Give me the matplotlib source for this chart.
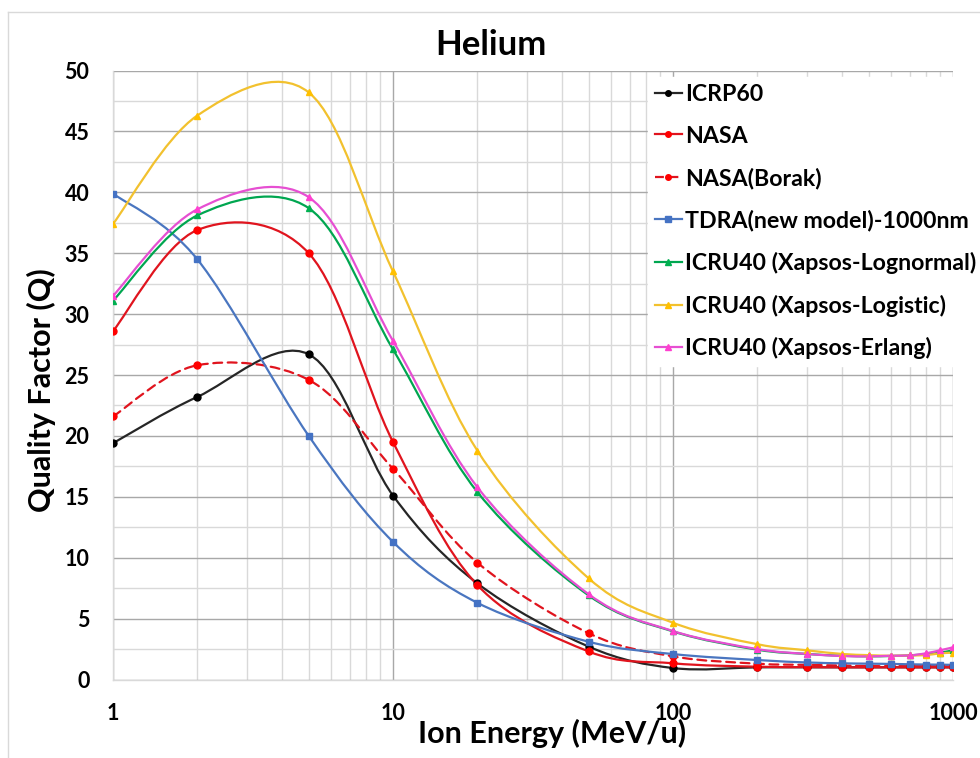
import numpy as np
import matplotlib
matplotlib.use("Agg")
import matplotlib.pyplot as plt
from matplotlib.path import Path
from matplotlib.patches import PathPatch
from matplotlib.lines import Line2D
from matplotlib.ticker import FixedLocator, NullFormatter

plt.rcParams['font.family'] = ['Lato', 'DejaVu Sans']
plt.rcParams['font.weight'] = 'bold'

# energies (MeV/u) and quality factors for each model
energy = [1, 2, 5, 10, 20, 50, 100, 200, 300, 400, 500, 600, 700, 800, 900, 1000]
icrp60 = [19.4, 23.2, 26.7, 15.1, 7.9, 2.7, 0.94, 1.0, 1.0, 1.0, 1.0, 1.0, 1.0, 1.0, 1.0, 1.0]
nasa = [28.6, 36.9, 35.0, 19.5, 7.76, 2.3, 1.33, 1.05, 1.02, 1.0, 1.0, 1.0, 1.0, 1.0, 1.0, 1.0]
nasa_borak = [21.6, 25.8, 24.6, 17.3, 9.6, 3.8, 1.9, 1.3, 1.2, 1.15, 1.1, 1.1, 1.1, 1.1, 1.1, 1.1]
tdra = [39.9, 34.5, 20.0, 11.3, 6.3, 3.1, 2.09, 1.6, 1.4, 1.33, 1.3, 1.28, 1.25, 1.23, 1.22, 1.2]
lognormal = [31.1, 38.1, 38.7, 27.1, 15.4, 6.9, 3.95, 2.45, 2.1, 1.95, 1.9, 1.93, 1.98, 2.08, 2.2, 2.4]
logistic = [37.4, 46.3, 48.2, 33.5, 18.8, 8.3, 4.66, 2.9, 2.4, 2.1, 2.0, 1.95, 1.98, 2.0, 2.15, 2.2]
erlang = [31.5, 38.6, 39.6, 27.8, 15.8, 7.0, 3.98, 2.5, 2.1, 1.93, 1.9, 1.95, 1.98, 2.15, 2.4, 2.64]

series = [
    ("ICRP60", icrp60, "#262626", "#000000", "o", "-"),
    ("NASA", nasa, "#e0141e", "#ff0000", "o", "-"),
    ("NASA(Borak)", nasa_borak, "#e0141e", "#ff0000", "o", (0, (4, 2.5))),
    ("TDRA(new model)-1000nm", tdra, "#4a76c0", "#4472c4", "s", "-"),
    ("ICRU40 (Xapsos-Lognormal)", lognormal, "#00a650", "#00b050", "^", "-"),
    ("ICRU40 (Xapsos-Logistic)", logistic, "#f2c12e", "#ffc000", "^", "-"),
    ("ICRU40 (Xapsos-Erlang)", erlang, "#e64fd2", "#ff40d0", "^", "-"),
]


def smooth_path(xs, ys):
    # Bezier segments like a spreadsheet "smoothed line", built in log-x space
    u = np.log10(xs)
    v = np.asarray(ys, dtype=float)
    n = len(u)
    verts = [(xs[0], v[0])]
    codes = [Path.MOVETO]
    for i in range(n - 1):
        i0 = max(i - 1, 0)
        i3 = min(i + 2, n - 1)
        c1u = u[i] + (u[i + 1] - u[i0]) / 6
        c1v = v[i] + (v[i + 1] - v[i0]) / 6
        c2u = u[i + 1] - (u[i3] - u[i]) / 6
        c2v = v[i + 1] - (v[i3] - v[i]) / 6
        verts += [(10 ** c1u, c1v), (10 ** c2u, c2v), (xs[i + 1], v[i + 1])]
        codes += [Path.CURVE4] * 3
    return Path(verts, codes)


W, H = 980, 758
fig = plt.figure(figsize=(W / 100, H / 100), dpi=100)
ax = fig.add_axes([113 / W, 1 - 679.5 / H, 840 / W, 609 / H])
ax.set_xscale("log")
ax.set_xlim(1, 1000)
ax.set_ylim(0, 50)

handles = []
for name, vals, lc, mc, mk, ls in series:
    ax.add_patch(PathPatch(smooth_path(energy, vals), fill=False, edgecolor=lc,
                           lw=1.6, linestyle=ls, zorder=3, capstyle="round"))
    ax.plot(energy, vals, linestyle="none", marker=mk, markersize=5,
            color=mc, zorder=4)
    handles.append(Line2D([], [], color=lc, lw=1.6, linestyle=ls, marker=mk,
                          markersize=4, markerfacecolor=mc, markeredgecolor=mc))

# gridlines
ax.set_yticks(np.arange(0, 51, 5))
ax.yaxis.set_minor_locator(FixedLocator(np.arange(2.5, 50, 5)))
ax.set_xticks([1, 10, 100, 1000], ["1", "10", "100", "1000"])
minor_x = [m * d for d in (1, 10, 100) for m in range(2, 10)]
ax.xaxis.set_minor_locator(FixedLocator(minor_x))
ax.xaxis.set_minor_formatter(NullFormatter())
ax.grid(which="major", color="#a8a8a8", lw=1.0)
ax.grid(which="minor", color="#d9d9d9", lw=1.0)
ax.set_axisbelow(True)
ax.tick_params(which="both", length=0)
ax.tick_params(axis="y", pad=17, labelsize=15.5)
ax.tick_params(axis="x", pad=17, labelsize=15.5)

for side in ("top", "right"):
    ax.spines[side].set_visible(False)
for side in ("left", "bottom"):
    ax.spines[side].set_color("#d9d9d9")
    ax.spines[side].set_linewidth(1.0)

fig.text(491 / W, 1 - 45 / H, "Helium", fontsize=25, fontweight="bold",
         ha="center", va="center")
fig.text(41 / W, 1 - 390 / H, "Quality Factor (Q)", fontsize=22,
         fontweight="bold", ha="center", va="center", rotation=90)
fig.text(552 / W, 1 - 733 / H, "Ion Energy (MeV/u)", fontsize=22,
         fontweight="bold", ha="center", va="center")

leg = ax.legend(handles, [s[0] for s in series], loc="upper left",
                bbox_to_anchor=(648 / W, 1 - 77 / H),
                bbox_transform=fig.transFigure, frameon=True, fancybox=False,
                facecolor="white", edgecolor="white", framealpha=1,
                fontsize=16.7, handlelength=1.16, handletextpad=0.15,
                labelspacing=0.89, borderpad=0.3, borderaxespad=0)
for t in leg.get_texts():
    t.set_fontweight("bold")

# chart area border
fig.add_artist(Line2D([8 / W, 8 / W], [0, 1 - 12 / H], color="#d9d9d9",
                      lw=1, transform=fig.transFigure))
fig.add_artist(Line2D([8 / W, 1], [1 - 12 / H, 1 - 12 / H], color="#d9d9d9",
                      lw=1, transform=fig.transFigure))

fig.savefig("out.png", dpi=100)
